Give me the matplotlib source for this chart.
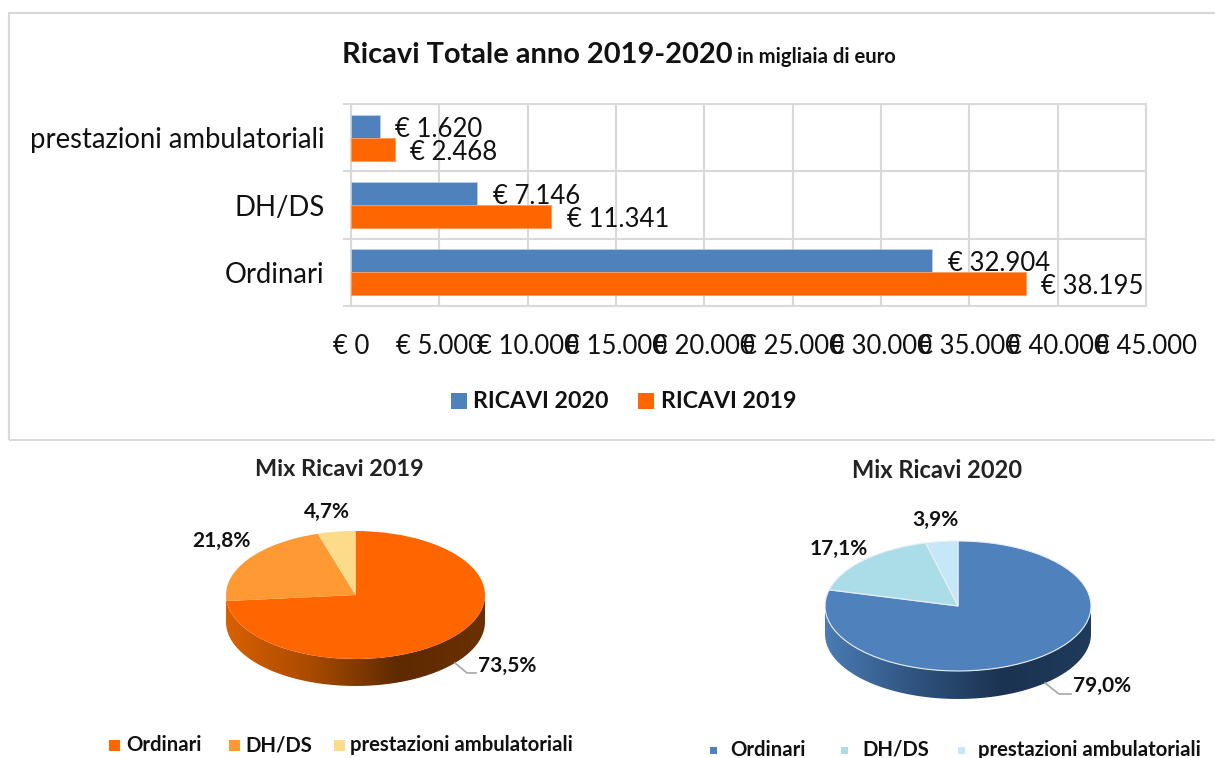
import numpy as np
import matplotlib
matplotlib.use("Agg")
import matplotlib.pyplot as plt
from matplotlib.colors import LinearSegmentedColormap
from matplotlib.lines import Line2D
from matplotlib.patches import PathPatch, Rectangle
from matplotlib.path import Path

plt.rcParams['font.family'] = ['Lato', 'DejaVu Sans']

W, H = 1215, 758

categories = ['Ordinari', 'DH/DS', 'prestazioni ambulatoriali']
ricavi_2020 = [32904, 7146, 1620]
ricavi_2019 = [38195, 11341, 2468]
x_ticks = [0, 5000, 10000, 15000, 20000, 25000, 30000, 35000, 40000, 45000]

mix_2019 = [73.5, 21.8, 4.7]
mix_2020 = [79.0, 17.1, 3.9]

BLUE = '#4f81bd'
ORANGE = '#ff6600'
GRID = '#d9d9d9'
INK = '#111111'


def euro(v):
    return '€ ' + f'{v:,.0f}'.replace(',', '.')


def pct(v):
    return f'{v:.1f}%'.replace('.', ',')


# everything below is placed in reference pixels, y going down
def fx(x):
    return x / W


def fy(y):
    return 1 - y / H


def px_axes(left, top, right, bottom):
    return fig.add_axes([fx(left), fy(bottom), (right - left) / W, (bottom - top) / H])


def label(x, y, s, size, ha='left', weight='bold', color=INK):
    fig.text(fx(x), fy(y), s, fontsize=size, ha=ha, va='center', fontweight=weight, color=color)


def leader(xs, ys):
    fig.add_artist(Line2D([fx(x) for x in xs], [fy(y) for y in ys], color='#a6a6a6', lw=1.2))


def legend_item(x, y, size, color, s, text_x, fontsize):
    fig.add_artist(Rectangle((fx(x), fy(y + size / 2)), size / W, size / H, color=color,
                             transform=fig.transFigure, lw=0))
    label(text_x, y, s, fontsize)


def pie_3d(left, right, top, bottom, depth, shares, colors, side_colors, edge):
    # bottom is the lower edge of the top ellipse, depth is the rim height in pixels
    ry = (bottom - top) / 2
    ax = px_axes(left, top, right, bottom + depth)
    ax.axis('off')

    cmap = LinearSegmentedColormap.from_list('side', side_colors)
    t = np.linspace(np.pi, 2 * np.pi, 200)
    d = depth / ry
    verts = np.vstack([np.column_stack([np.cos(t), np.sin(t) - d]),
                       np.column_stack([np.cos(t[::-1]), np.sin(t[::-1])])])
    rim = PathPatch(Path(verts), transform=ax.transData, fc='none', ec='none')
    ax.add_patch(rim)
    img = ax.imshow(np.linspace(0, 1, 256).reshape(1, -1), cmap=cmap, aspect='auto',
                    extent=(-1, 1, -1 - d, 1), zorder=1)
    img.set_clip_path(rim)

    wedges, _ = ax.pie(shares, colors=colors, startangle=90, counterclock=False, radius=1,
                       wedgeprops=dict(edgecolor=edge, linewidth=0.8 if edge != 'none' else 0, zorder=2))
    for w in wedges:
        w.set_zorder(2)
    ax.set_aspect('auto')
    ax.set_xlim(-1, 1)
    ax.set_ylim(-1 - d, 1)


fig = plt.figure(figsize=(W / 100, H / 100), dpi=100, facecolor='white')

# frame of the top chart, runs off on the right
fig.add_artist(Rectangle((fx(9), fy(440)), (W + 10 - 9) / W, (440 - 13) / H, fill=False,
                         ec=GRID, lw=1.5, transform=fig.transFigure))

# bars
ax = px_axes(351, 104, 1146, 306)
y = np.arange(len(categories))
bar_h = 0.342
b20 = ax.barh(y + bar_h / 2, ricavi_2020, bar_h, color=BLUE, edgecolor='#b9cde5', linewidth=0.6, zorder=3, label='RICAVI 2020')
b19 = ax.barh(y - bar_h / 2, ricavi_2019, bar_h, color=ORANGE, edgecolor='#ff9a5c', linewidth=0.6, zorder=3, label='RICAVI 2019')
bar_texts = ax.bar_label(b20, labels=[euro(v) for v in ricavi_2020], padding=11, fontsize=18.5, color=INK, zorder=4)
bar_texts += ax.bar_label(b19, labels=[euro(v) for v in ricavi_2019], padding=11, fontsize=18.5, color=INK, zorder=4)
# Lato sits a little higher than the original font
for t in bar_texts:
    t.xyann = (t.xyann[0], -2.2)

ax.set_xlim(0, 45000)
ax.set_ylim(-0.5, 2.5)
ax.set_xticks(x_ticks)
ax.set_xticklabels([euro(v) for v in x_ticks], fontsize=18.5, color=INK)
ax.set_yticks(y)
ax.set_yticklabels(categories, fontsize=19.8, color=INK)
ax.set_yticks(np.arange(-0.5, 3), minor=True)
ax.tick_params(axis='y', which='major', length=0, pad=19)
ax.tick_params(axis='y', which='minor', length=6, width=1.5, color=GRID)
ax.tick_params(axis='x', length=0, pad=20)
ax.grid(True, axis='x', color=GRID, lw=1.5, zorder=0)
ax.grid(True, axis='y', which='minor', color=GRID, lw=1.5, zorder=0)
ax.set_axisbelow(True)
for s in ax.spines.values():
    s.set_color(GRID)
    s.set_linewidth(1.5)

label(342, 55, 'Ricavi Totale anno 2019-2020', 20.9)
label(737, 57, 'in migliaia di euro', 14.6)

legend_item(451, 401, 16, BLUE, 'RICAVI 2020', 473, 16.7)
legend_item(638, 401, 16, ORANGE, 'RICAVI 2019', 661, 16.7)

# pies
pie_3d(226, 485, 531, 659, 27, mix_2019, [ORANGE, '#ff9933', '#fcdc8a'],
       ['#d96000', '#a84a00', '#5e2a00', '#6b3000'], 'none')
pie_3d(825, 1091, 541, 671, 28, mix_2020, [BLUE, '#abdde9', '#c6e7f8'],
       ['#4a7bb4', '#2f5480', '#1b3350', '#1f3a5c'], '#e8eef6')

label(339, 470, 'Mix Ricavi 2019', 16.8, ha='center', color='#222222')
label(937, 470, 'Mix Ricavi 2020', 17, ha='center', color='#222222')

label(221, 541, pct(mix_2019[1]), 15, ha='center')
label(327, 512, pct(mix_2019[2]), 15, ha='center')
label(507, 666, pct(mix_2019[0]), 15, ha='center')
leader([455, 467, 476], [663, 673, 673])

label(839, 549, pct(mix_2020[1]), 15, ha='center')
label(935, 520, pct(mix_2020[2]), 15, ha='center')
label(1102, 686, pct(mix_2020[0]), 15, ha='center')
leader([1045, 1059, 1071], [683, 694, 694])

legend_item(109, 745, 11, ORANGE, categories[0], 126, 14.6)
legend_item(229, 745, 11, '#ff9933', categories[1], 245, 14.6)
legend_item(334, 745, 11, '#fcdc8a', categories[2], 350, 14.6)

legend_item(710, 750, 7, BLUE, categories[0], 730, 14.6)
legend_item(841, 750, 7, '#abdde9', categories[1], 862, 14.6)
legend_item(958, 750, 7, '#c6e7f8', categories[2], 978, 14.6)

fig.savefig('out.png', dpi=100)
